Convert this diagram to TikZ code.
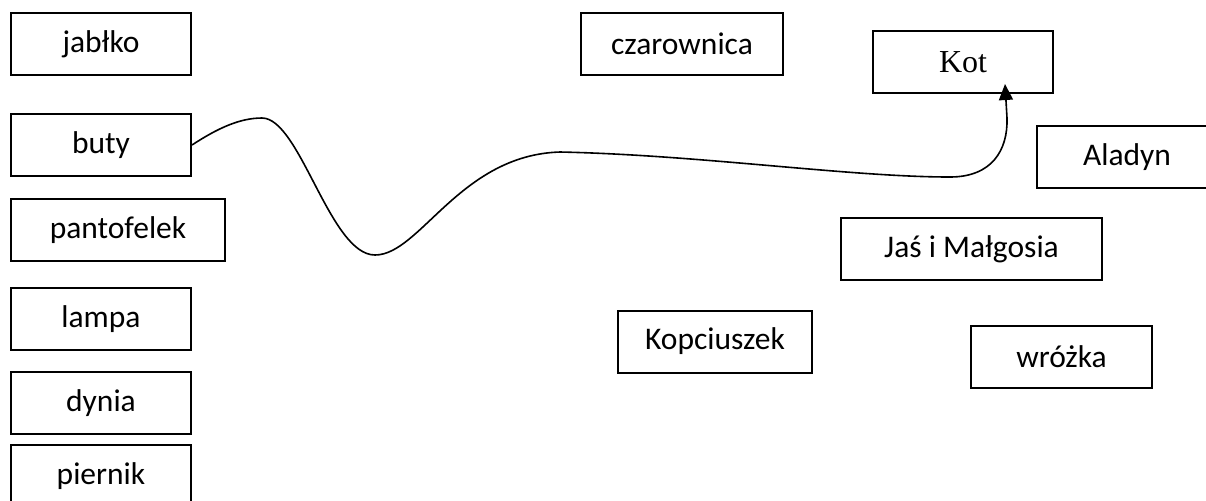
\documentclass[tikz,border=0pt]{standalone}
\usepackage{fontspec}
\setmainfont{Carlito}
\newfontfamily\timesf{Liberation Serif}
\usetikzlibrary{arrows.meta}
\begin{document}
\begin{tikzpicture}[x=0.5pt,y=-0.5pt,
  box/.style={draw,line width=1pt,inner sep=0pt,minimum height=31pt,font=\fontsize{15.75}{18}\selectfont},
  conn/.style={line width=0.8pt,-{Triangle[length=8pt,width=7pt]}}]
\useasboundingbox (0,0) rectangle (1206,500);
\clip (0,0) rectangle (1206,500);
\node[box,minimum width=90pt] (jablko) at (101,44) {jabłko};
\node[box,minimum width=90pt] (buty) at (101,145) {buty};
\node[box,minimum width=107pt] (pantofelek) at (118,230) {pantofelek};
\node[box,minimum width=90pt] (lampa) at (101,319) {lampa};
\node[box,minimum width=90pt] (dynia) at (101,403) {dynia};
\node[box,minimum width=90pt] (piernik) at (101,476) {piernik};
\node[box,minimum width=101pt] (czarownica) at (682,44) {czarownica};
\node[box,minimum width=90pt,font=\timesf\fontsize{16}{19}\selectfont] (Kot) at (963,62) {Kot};
\node[box,minimum width=90pt] (Aladyn) at (1127,157) {Aladyn};
\node[box,minimum width=130.5pt] (jas) at (971.5,249) {Jaś i Małgosia};
\node[box,minimum width=97pt] (kopciuszek) at (715,341.5) {Kopciuszek};
\node[box,minimum width=90.5pt] (wrozka) at (1061.5,356.5) {wróżka};
\coordinate (kottip) at ([xshift=21pt,yshift=5pt]Kot.south);
\draw[conn] (buty.east) .. controls (218,128) and (240,118) .. (262,118)
  .. controls (300,118) and (330,255) .. (375,255)
  .. controls (420,255) and (460,155) .. (560,152)
  .. controls (700,155) and (850,177) .. (950,177)
  .. controls (992,177) and (1008,150) .. (1007,118)
  -- (kottip);
\end{tikzpicture}
\end{document}
